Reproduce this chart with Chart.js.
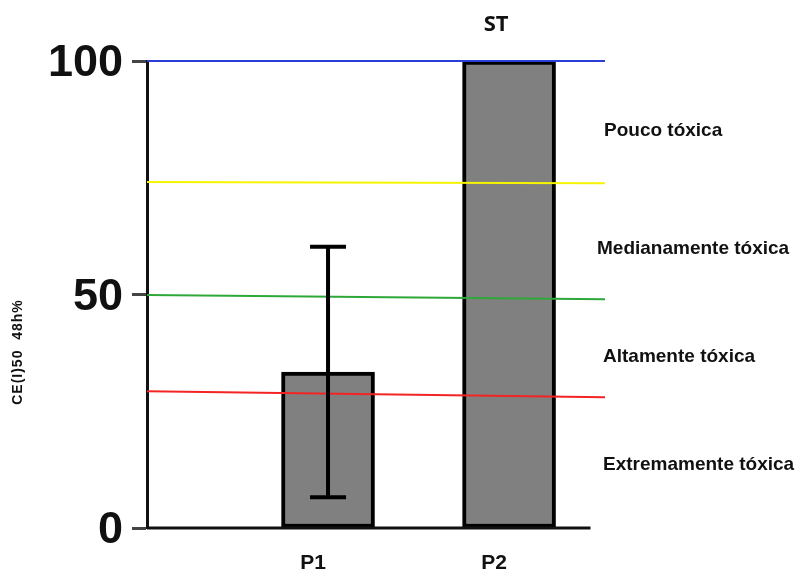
<!DOCTYPE html>
<html>
<head>
<meta charset="utf-8">
<script src="https://cdn.jsdelivr.net/npm/chart.js@4"></script>
<style>
  html, body { margin: 0; padding: 0; background: #fff; }
  #wrap { width: 797px; height: 570px; }
</style>
</head>
<body>
<div id="wrap"><canvas id="toxChart" width="797" height="570"></canvas></div>
<script>
var categories = ['P1', 'P2'];
var positions = [1, 2];
var means = [33.4, 100];
var errors = [26.8, 0];
var topLabels = ['', 'ST'];
var yTicks = [0, 50, 100];
var yTitle = 'CE(I)50  48h%';

// threshold lines: value at left end and right end (slightly tilted in the original)
var thresholdStart = [100, 74.1, 49.9, 29.3];
var thresholdEnd = [100, 73.8, 49.0, 28.0];
var thresholdColors = ['#2b3fd8', '#f6f400', '#2fa83a', '#f42424'];

var zoneLabels = ['Pouco tóxica', 'Medianamente tóxica', 'Altamente tóxica', 'Extremamente tóxica'];
var zoneValues = [85, 59.8, 36.7, 13.6];

var xMax = 2.53;
var axisEnd = 2.45;

var datasets = [];
datasets.push({
    type: 'bar',
    label: 'CE50',
    data: positions.map(function(p, i) { return {x: p, y: means[i]}; }),
    backgroundColor: '#808080',
    borderColor: '#000',
    borderWidth: 4,
    borderSkipped: false,
    barThickness: 93,
    order: 3
});
thresholdStart.forEach(function(v, i) {
    datasets.push({
        type: 'line',
        data: [{x: 0, y: v}, {x: xMax, y: thresholdEnd[i]}],
        borderColor: thresholdColors[i],
        borderWidth: 2,
        pointRadius: 0,
        clip: false,
        order: 1
    });
});
// baseline of the x axis (shorter than the threshold lines)
datasets.push({
    type: 'line',
    data: [{x: 0, y: 0}, {x: axisEnd, y: 0}],
    borderColor: '#111',
    borderWidth: 3,
    pointRadius: 0,
    clip: false,
    order: 0
});

var extras = {
    id: 'extras',
    afterDatasetsDraw: function(chart) {
        var ctx = chart.ctx;
        var xs = chart.scales.x, ys = chart.scales.y;
        var area = chart.chartArea;
        ctx.save();
        // error bars
        ctx.strokeStyle = '#000';
        ctx.lineWidth = 4;
        positions.forEach(function(p, i) {
            if (!errors[i]) return;
            var x = xs.getPixelForValue(p);
            var hi = ys.getPixelForValue(means[i] + errors[i]);
            var lo = ys.getPixelForValue(means[i] - errors[i]);
            ctx.beginPath();
            ctx.moveTo(x, hi); ctx.lineTo(x, lo);
            ctx.moveTo(x - 18, hi); ctx.lineTo(x + 18, hi);
            ctx.moveTo(x - 18, lo); ctx.lineTo(x + 18, lo);
            ctx.stroke();
        });
        ctx.fillStyle = '#111';
        ctx.textBaseline = 'middle';
        // y tick labels (drawn here to match the original's vertical placement)
        ctx.font = 'bold 45px Arial, "Liberation Sans", sans-serif';
        ctx.textAlign = 'right';
        yTicks.forEach(function(v) {
            ctx.fillText(String(v), area.left - 24, ys.getPixelForValue(v) + 3);
        });
        // category labels (sit a little left of the bar centres in the original)
        ctx.font = 'bold 21px Arial, "Liberation Sans", sans-serif';
        ctx.textAlign = 'center';
        ctx.textBaseline = 'top';
        positions.forEach(function(p, i) {
            ctx.fillText(categories[i], xs.getPixelForValue(p) - 15, area.bottom + 25);
        });
        // labels over the bars
        ctx.textBaseline = 'middle';
        ctx.font = 'bold 22px "Open Sans", Arial, sans-serif';
        positions.forEach(function(p, i) {
            if (topLabels[i]) ctx.fillText(topLabels[i], xs.getPixelForValue(p) - 13, area.top - 36);
        });
        // zone labels on the right
        var shift = [0, -7, -1, -1];
        ctx.font = 'bold 19px Arial, "Liberation Sans", sans-serif';
        ctx.textAlign = 'left';
        zoneLabels.forEach(function(t, i) {
            ctx.fillText(t, area.right - 1 + shift[i], ys.getPixelForValue(zoneValues[i]));
        });
        // y axis title
        ctx.translate(18, 352);
        ctx.rotate(-Math.PI / 2);
        ctx.textAlign = 'center';
        ctx.font = 'bold 14px Arial, "Liberation Sans", sans-serif';
        ctx.letterSpacing = '1px';
        ctx.fillText(yTitle, 0, 0);
        ctx.restore();
    }
};

var toxChart = new Chart(document.getElementById('toxChart'), {
    type: 'bar',
    data: { datasets: datasets },
    plugins: [extras],
    options: {
        responsive: false,
        animation: false,
        layout: { padding: { top: 61, right: 192, left: 0, bottom: 0 } },
        plugins: { legend: { display: false }, tooltip: { enabled: false } },
        scales: {
            x: {
                type: 'linear',
                offset: false,
                min: 0,
                max: xMax,
                afterFit: function(scale) { scale.height = 42; },
                ticks: { display: false },
                grid: { display: false },
                border: { display: false }
            },
            y: {
                min: 0,
                max: 100,
                afterBuildTicks: function(scale) {
                    scale.ticks = yTicks.map(function(v) { return {value: v}; });
                },
                afterFit: function(scale) { scale.width = 147; },
                ticks: { display: false },
                grid: {
                    drawOnChartArea: false,
                    tickLength: 15,
                    tickWidth: 3,
                    tickColor: '#444'
                },
                border: { color: '#111', width: 3 }
            }
        }
    }
});
</script>
</body>
</html>
